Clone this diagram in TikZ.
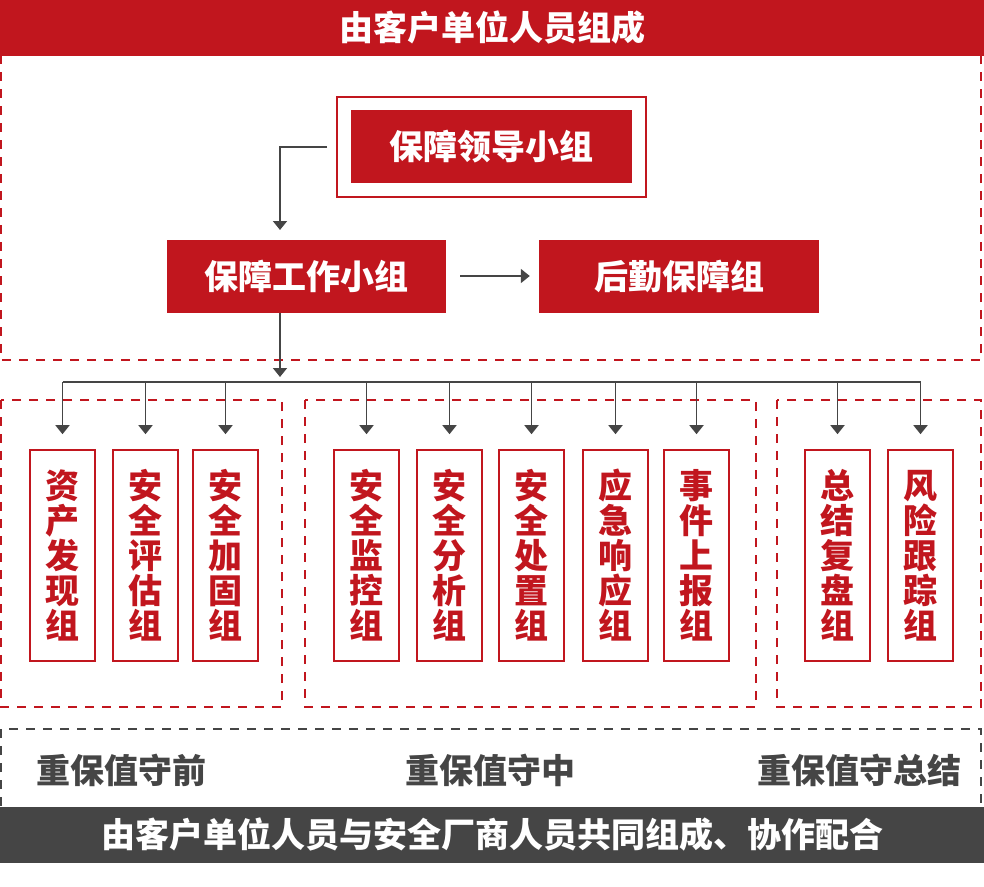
\documentclass[tikz,border=0pt]{standalone}
\usepackage{fontspec}
\setmainfont{Noto Sans CJK SC}
\usepackage{xcolor}
\usepackage{tikz}
\usetikzlibrary{arrows.meta,positioning}
\definecolor{bzred}{HTML}{C1161E}
\definecolor{bzgray}{HTML}{454545}

\begin{document}
\begin{tikzpicture}[x=1pt,y=-1pt,
	font=\fontsize{34}{35}\selectfont\bfseries,
	bar/.style={fill=#1,text=white,inner sep=0pt,minimum width=984pt,minimum height=56pt},
	redbox/.style={fill=bzred,text=white,inner sep=0pt,minimum width=281pt,minimum height=73pt},
	groupbox/.style={draw=bzred,line width=1.6pt,text=bzred,inner sep=0pt,
		minimum width=65pt,minimum height=211pt,align=center},
	reddash/.style={draw=bzred,line width=1.8pt,dash pattern=on 9pt off 8pt},
	graydash/.style={draw=bzgray,line width=1.8pt,dash pattern=on 9pt off 8pt},
	conn/.style={draw=bzgray,line width=1.8pt},
	arr/.style={conn,-{Triangle[width=14pt,length=9pt]}}]
		\useasboundingbox (0,0) rectangle (984,886);
		%
		\node[bar=bzred] (top) at (492,27.5) {由客户单位人员组成};
		\node[bar=bzgray] (bottom) at (492,834.5) {由客户单位人员与安全厂商人员共同组成、协作配合};
		%
		\draw[reddash] (1,55) -- (1,360) -- (981,360) -- (981,55);
		\draw[reddash] (1,400) rectangle (282,707);
		\draw[reddash] (305,400) rectangle (756,707);
		\draw[reddash] (777,400) rectangle (981,707);
		\draw[graydash] (1,806) -- (1,729) -- (981,729) -- (981,806);
		%
		\node[draw=bzred,line width=1.6pt,minimum width=309pt,minimum height=100pt] (leadframe) at (491.5,147) {};
		\node[redbox] (lead) at (491.5,146.5) {保障领导小组};
		\node[redbox,minimum width=279pt] (work) at (306.5,276) {保障工作小组};
		\node[redbox,minimum width=280pt] (logi) at (679,276) {后勤保障组};
		%
		\coordinate (down) at (280,230);
		\coordinate (split) at (280,377);
		\coordinate (bus) at (0,382);
		\draw[arr] ([xshift=-9pt]leadframe.west) -| (down);
		\draw[arr] ([xshift=14pt]work.east) -- ([xshift=-9pt]logi.west);
		\draw[arr] (work.south -| split) -- (split);
		%
		\foreach \nm/\cx/\txt in {
			zc/62.5/{资\\产\\发\\现\\组},
			pg/145.5/{安\\全\\评\\估\\组},
			jg/225.5/{安\\全\\加\\固\\组},
			jk/366.5/{安\\全\\监\\控\\组},
			fx/449.5/{安\\全\\分\\析\\组},
			cz/531.5/{安\\全\\处\\置\\组},
			xy/615.5/{应\\急\\响\\应\\组},
			sb/696.5/{事\\件\\上\\报\\组},
			fp/837.5/{总\\结\\复\\盘\\组},
			gz/920.5/{风\\险\\跟\\踪\\组}}{
			\node[groupbox] (\nm) at (\cx,555.5) {\txt};
			\draw[arr] (\nm |- bus) -- ([yshift=15pt]\nm.north);
		}
		\draw[conn] (zc |- bus) -- (gz |- bus);
		%
		\node[text=bzgray,anchor=west,inner sep=0pt] (before) at (36,770) {重保值守前};
		\node[text=bzgray,inner sep=0pt] (during) at (490,770) {重保值守中};
		\node[text=bzgray,anchor=east,inner sep=0pt] (after) at (962,770) {重保值守总结};
	\end{tikzpicture}
\end{document}
